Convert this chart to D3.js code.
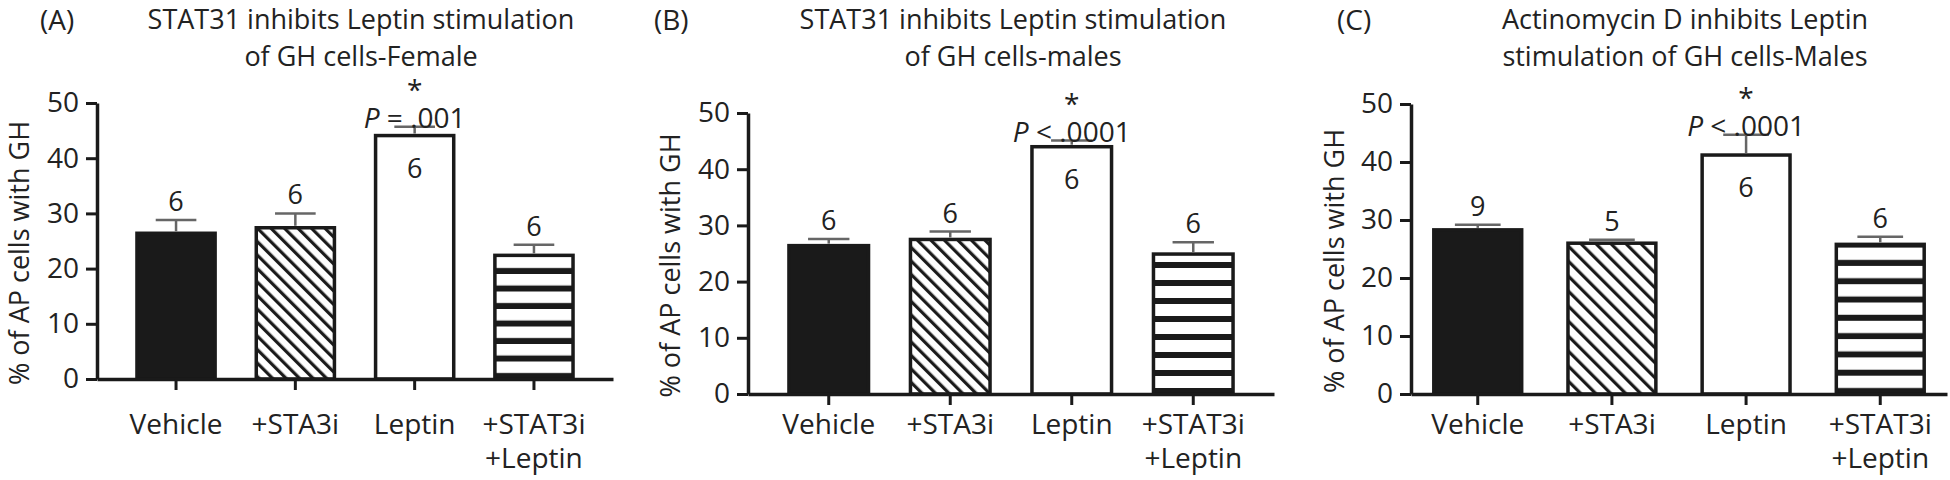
<!DOCTYPE html>
<html>
<head>
<meta charset="utf-8">
<script src="https://cdn.jsdelivr.net/npm/d3@7"></script>
<style>
  body { margin: 0; background: #fff; }
  svg { display: block; font-family: "Open Sans", sans-serif; }
  text { fill: #222; }
</style>
</head>
<body>
<svg width="1950" height="480"></svg>
<script>
// data
const categories = [["Vehicle"], ["+STA3i"], ["Leptin"], ["+STAT3i", "+Leptin"]]
const panelLetters = ["(A)", "(B)", "(C)"]
const titles = [
  ["STAT31 inhibits Leptin stimulation", "of GH cells-Female"],
  ["STAT31 inhibits Leptin stimulation", "of GH cells-males"],
  ["Actinomycin D inhibits Leptin", "stimulation of GH cells-Males"]
]
const yTicks = [0, 10, 20, 30, 40, 50]

const meansA = [26.4, 27.4, 44.1, 22.4]
const errA = [2.4, 2.6, 1.6, 1.9]
const nA = [6, 6, 6, 6]

const meansB = [26.4, 27.5, 44.0, 24.9]
const errB = [1.2, 1.4, 1.1, 2.1]
const nB = [6, 6, 6, 6]

const meansC = [28.3, 26.0, 41.2, 25.8]
const errC = [0.9, 0.6, 3.5, 1.3]
const nC = [9, 5, 6, 6]

const pText = ["= .001", "< .0001", "< .0001"]

// layout of each panel
const panels = [
  {means: meansA, err: errA, n: nA, left: 97, right: 613, top: 103, bottom: 379, outer: 0.335,
   titleX: 361, letterX: 40, labelX: 29, hatch: 13.5, stripe: 17.5},
  {means: meansB, err: errB, n: nB, left: 748, right: 1274, top: 113, bottom: 394, outer: 0.337,
   titleX: 1013, letterX: 654, labelX: 680, hatch: 13.5, stripe: 18},
  {means: meansC, err: errC, n: nC, left: 1411, right: 1947, top: 104, bottom: 394, outer: 0.17,
   titleX: 1685, letterX: 1337, labelX: 1344, hatch: 15, stripe: 18.3}
]

const svg = d3.select("svg")
const defs = svg.append("defs")
const ink = "#1a1a1a"

panels.forEach((p, pi) => {
  // fill patterns for this panel
  const hs = p.hatch / Math.SQRT2
  defs.append("pattern")
    .attr("id", "diag" + pi)
    .attr("patternUnits", "userSpaceOnUse")
    .attr("width", hs).attr("height", hs)
    .attr("patternTransform", "rotate(-45)")
    .append("rect")
    .attr("x", 0).attr("y", 0)
    .attr("width", 3.2).attr("height", hs)
    .attr("fill", ink)

  const st = defs.append("pattern")
    .attr("id", "horiz" + pi)
    .attr("patternUnits", "userSpaceOnUse")
    .attr("width", 10).attr("height", p.stripe)
    .attr("y", p.bottom)
  st.append("rect")
    .attr("x", 0).attr("y", p.stripe - 6)
    .attr("width", 10).attr("height", 6)
    .attr("fill", ink)

  const fills = [ink, `url(#diag${pi})`, "#fff", `url(#horiz${pi})`]

  const x = d3.scaleBand()
    .domain(categories.map(d => d.join(" ")))
    .range([p.left, p.right])
    .paddingInner(0.345)
    .paddingOuter(p.outer)

  const y = d3.scaleLinear()
    .domain([0, 50])
    .range([p.bottom, p.top])

  const g = svg.append("g")

  // titles
  g.append("text")
    .attr("x", p.letterX).attr("y", 30)
    .attr("font-size", 28)
    .text(panelLetters[pi])

  titles[pi].forEach((line, i) => {
    g.append("text")
      .attr("x", p.titleX).attr("y", 29 + i * 37)
      .attr("text-anchor", "middle")
      .attr("font-size", 27)
      .text(line)
  })

  // y axis
  const yAxis = g.append("g")
    .attr("transform", `translate(${p.left},0)`)
    .call(d3.axisLeft(y).tickValues(yTicks).tickSize(11).tickSizeOuter(0).tickPadding(7))
  yAxis.select(".domain").attr("stroke", ink).attr("stroke-width", 3.5)
  yAxis.selectAll(".tick line").attr("stroke", ink).attr("stroke-width", 3)
  yAxis.selectAll(".tick text")
    .attr("font-size", 28)
    .attr("font-family", "Open Sans")
    .attr("fill", "#222")

  g.append("text")
    .attr("transform", `translate(${p.labelX},${(p.top + p.bottom) / 2 + 12}) rotate(-90)`)
    .attr("text-anchor", "middle")
    .attr("font-size", 27)
    .text("% of AP cells with GH")

  // bars
  const rows = categories.map((c, i) => ({
    key: c.join(" "), lines: c, mean: p.means[i], err: p.err[i], n: p.n[i], fill: fills[i], i
  }))

  g.selectAll("rect.bar")
    .data(rows)
    .join("rect")
    .attr("class", "bar")
    .attr("x", d => x(d.key))
    .attr("y", d => y(d.mean))
    .attr("width", x.bandwidth())
    .attr("height", d => y(0) - y(d.mean))
    .attr("fill", d => d.fill)
    .attr("stroke", ink)
    .attr("stroke-width", 3.5)

  // error bars, upward only
  const eb = g.selectAll("g.err")
    .data(rows)
    .join("g")
    .attr("class", "err")
    .attr("stroke", "#666")
    .attr("stroke-width", 2.5)
  eb.append("line")
    .attr("x1", d => x(d.key) + x.bandwidth() / 2)
    .attr("x2", d => x(d.key) + x.bandwidth() / 2)
    .attr("y1", d => y(d.mean) - 2)
    .attr("y2", d => y(d.mean + d.err))
  eb.append("line")
    .attr("x1", d => x(d.key) + x.bandwidth() * 0.24)
    .attr("x2", d => x(d.key) + x.bandwidth() * 0.76)
    .attr("y1", d => y(d.mean + d.err))
    .attr("y2", d => y(d.mean + d.err))

  // x axis
  const xAxis = g.append("g")
    .attr("transform", `translate(0,${p.bottom})`)
    .call(d3.axisBottom(x).tickSize(11).tickSizeOuter(0).tickFormat(""))
  xAxis.select(".domain").attr("stroke", ink).attr("stroke-width", 3.5)
  xAxis.selectAll(".tick line").attr("stroke", ink).attr("stroke-width", 3)

  rows.forEach(d => {
    d.lines.forEach((line, k) => {
      g.append("text")
        .attr("x", x(d.key) + x.bandwidth() / 2)
        .attr("y", 434 + k * 34)
        .attr("text-anchor", "middle")
        .attr("font-size", 28)
        .text(line)
    })
  })

  // n labels
  g.selectAll("text.n")
    .data(rows)
    .join("text")
    .attr("class", "n")
    .attr("x", d => x(d.key) + x.bandwidth() / 2)
    .attr("y", d => d.i === 2 ? y(d.mean) + 42 : y(d.mean + d.err) - 9)
    .attr("text-anchor", "middle")
    .attr("font-size", 27)
    .text(d => d.n)

  // significance note over the Leptin bar
  const lep = rows[2]
  const cx = x(lep.key) + x.bandwidth() / 2
  const pY = y(lep.mean + lep.err) + 1
  g.append("text")
    .attr("x", cx)
    .attr("y", pY - 28)
    .attr("text-anchor", "middle")
    .attr("font-size", 28)
    .text("*")
  const pt = g.append("text")
    .attr("x", cx)
    .attr("y", pY)
    .attr("text-anchor", "middle")
    .attr("font-size", 28)
  pt.append("tspan").attr("font-style", "italic").text("P")
  pt.append("tspan").text(" " + pText[pi])
})
</script>
</body>
</html>
